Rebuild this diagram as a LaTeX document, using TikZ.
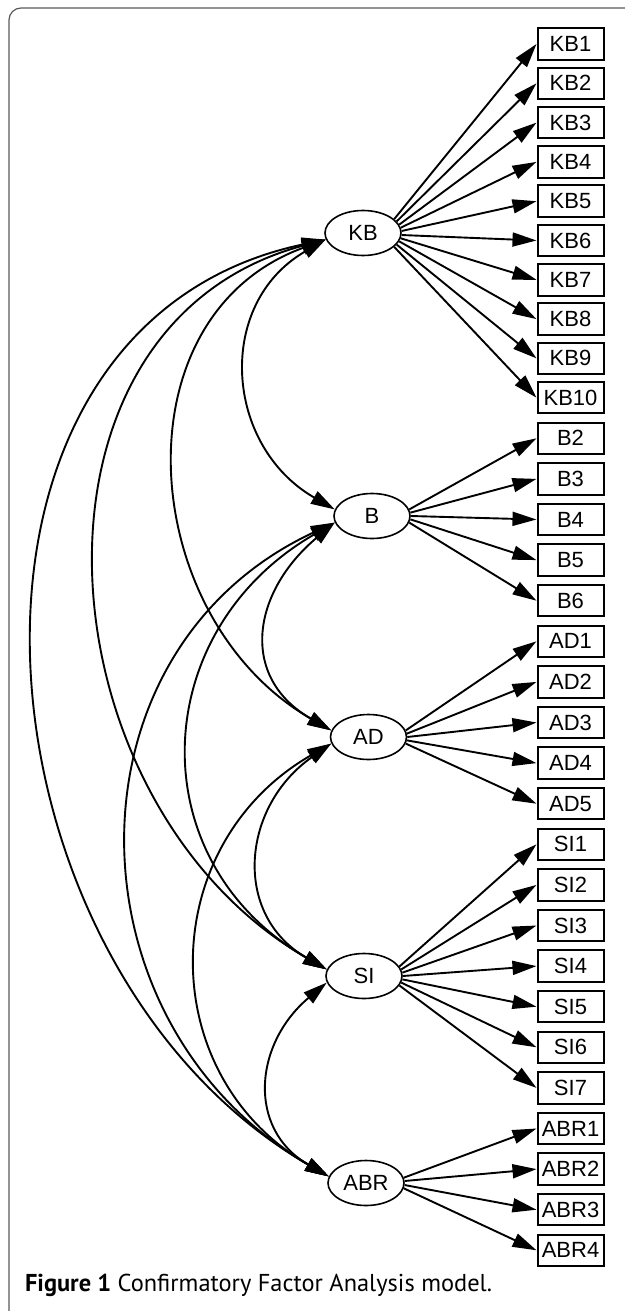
\documentclass[tikz,border=0pt]{standalone}
\usepackage{fontspec}
\setmainfont{Liberation Sans}
\newfontfamily\captionfont{PT Sans}
\usetikzlibrary{arrows.meta,positioning,shapes.geometric}

\begin{document}
\begin{tikzpicture} %
		[
			x=0.5pt, y=0.5pt,
			font={\fontsize{11}{13}\selectfont},
			node distance=3.55pt,
			factor/.style={
				draw,
				ellipse,
				line width=0.8pt,
				minimum width=38pt,
				minimum height=22.5pt,
				inner sep=0pt,
			},
			item/.style={
				draw,
				rectangle,
				line width=1pt,
				minimum width=33pt,
				minimum height=15.75pt,
				inner sep=1pt,
			},
			load/.style={line width=0.95pt, -{Triangle[length=12pt,width=7pt]}},
			cov/.style={line width=0.95pt, {Triangle[length=12pt,width=7pt]}-{Triangle[length=12pt,width=7pt]}, looseness=1.2},
			frame/.style={draw=black!65, line width=0.6pt, rounded corners=6pt},
		]
		\useasboundingbox (0,0) rectangle (625,-1311);
		\draw[frame] (9,-8) rectangle (660,-1325);
		% latent factors
		\node[factor] (KB) at (363,-233) {KB};
		\node[factor] (B) at (372,-516) {B};
		\node[factor] (AD) at (368.5,-737) {AD};
		\node[factor] (SI) at (364,-976) {SI};
		\node[factor] (ABR) at (366,-1183) {ABR};
		% indicators
		\node[item] (KB1) at (570.5,-44) {KB1};
		\node[item, below=2.9pt of KB1] (KB2) {KB2};
		\node[item, below=2.9pt of KB2] (KB3) {KB3};
		\node[item, below=2.9pt of KB3] (KB4) {KB4};
		\node[item, below=2.9pt of KB4] (KB5) {KB5};
		\node[item, below=2.9pt of KB5] (KB6) {KB6};
		\node[item, below=2.9pt of KB6] (KB7) {KB7};
		\node[item, below=2.9pt of KB7] (KB8) {KB8};
		\node[item, below=2.9pt of KB8] (KB9) {KB9};
		\node[item, below=2.9pt of KB9] (KB10) {KB10};
		\node[item, below=of KB10] (B2) {B2};
		\node[item, below=of B2] (B3) {B3};
		\node[item, below=of B3] (B4) {B4};
		\node[item, below=of B4] (B5) {B5};
		\node[item, below=of B5] (B6) {B6};
		\node[item, below=of B6] (AD1) {AD1};
		\node[item, below=of AD1] (AD2) {AD2};
		\node[item, below=of AD2] (AD3) {AD3};
		\node[item, below=of AD3] (AD4) {AD4};
		\node[item, below=of AD4] (AD5) {AD5};
		\node[item, below=of AD5] (SI1) {SI1};
		\node[item, below=of SI1] (SI2) {SI2};
		\node[item, below=of SI2] (SI3) {SI3};
		\node[item, below=of SI3] (SI4) {SI4};
		\node[item, below=of SI4] (SI5) {SI5};
		\node[item, below=of SI5] (SI6) {SI6};
		\node[item, below=of SI6] (SI7) {SI7};
		\node[item, below=of SI7] (ABR1) {ABR1};
		\node[item, below=of ABR1] (ABR2) {ABR2};
		\node[item, below=of ABR2] (ABR3) {ABR3};
		\node[item, below=of ABR3] (ABR4) {ABR4};
		% loadings
		\path[load]
		(KB.24) edge (KB1.west) (KB.19) edge (KB2.west)
		(KB.13) edge (KB3.west) (KB.8) edge (KB4.west)
		(KB.3) edge (KB5.west) (KB.-3) edge (KB6.west)
		(KB.-8) edge (KB7.west) (KB.-13) edge (KB8.west)
		(KB.-19) edge (KB9.west) (KB.-24) edge (KB10.west);
		\path[load]
		(B.10) edge (B2.west) (B.5) edge (B3.west) (B.0) edge (B4.west)
		(B.-5) edge (B5.west) (B.-10) edge (B6.west);
		\path[load]
		(AD.10) edge (AD1.west) (AD.5) edge (AD2.west) (AD.0) edge (AD3.west)
		(AD.-5) edge (AD4.west) (AD.-10) edge (AD5.west);
		\path[load]
		(SI.15) edge (SI1.west) (SI.10) edge (SI2.west) (SI.5) edge (SI3.west)
		(SI.0) edge (SI4.west) (SI.-5) edge (SI5.west)
		(SI.-10) edge (SI6.west) (SI.-15) edge (SI7.west);
		\path[load]
		(ABR.8) edge (ABR1.west) (ABR.3) edge (ABR2.west)
		(ABR.-3) edge (ABR3.west) (ABR.-8) edge (ABR4.west);
		% covariances
		\draw[cov] (KB.190) to [out=210, in=150, looseness=1.21] (B.170);
		\draw[cov] (KB.190) to [out=200, in=150, looseness=1.17] (AD.170);
		\draw[cov] (KB.190) to [out=195, in=150, looseness=1.17] (SI.170);
		\draw[cov] (KB.190) to [out=192, in=150, looseness=1.15] (ABR.170);
		\draw[cov] (B.190) to [out=220, in=150, looseness=1.32] (AD.170);
		\draw[cov] (B.190) to [out=210, in=150, looseness=1.24] (SI.170);
		\draw[cov] (B.190) to [out=205, in=150, looseness=1.19] (ABR.170);
		\draw[cov] (AD.190) to [out=215, in=150, looseness=1.24] (SI.170);
		\draw[cov] (AD.190) to [out=210, in=150, looseness=1.2] (ABR.170);
		\draw[cov] (SI.190) to [out=220, in=150, looseness=1.25] (ABR.170);
		% caption
		\node[anchor=base west, font={\captionfont\fontsize{12.2}{14}\selectfont}] (caption) at (18,-1291)
		{\textbf{Figure 1} Confirmatory Factor Analysis model.};
	\end{tikzpicture}
\end{document}
